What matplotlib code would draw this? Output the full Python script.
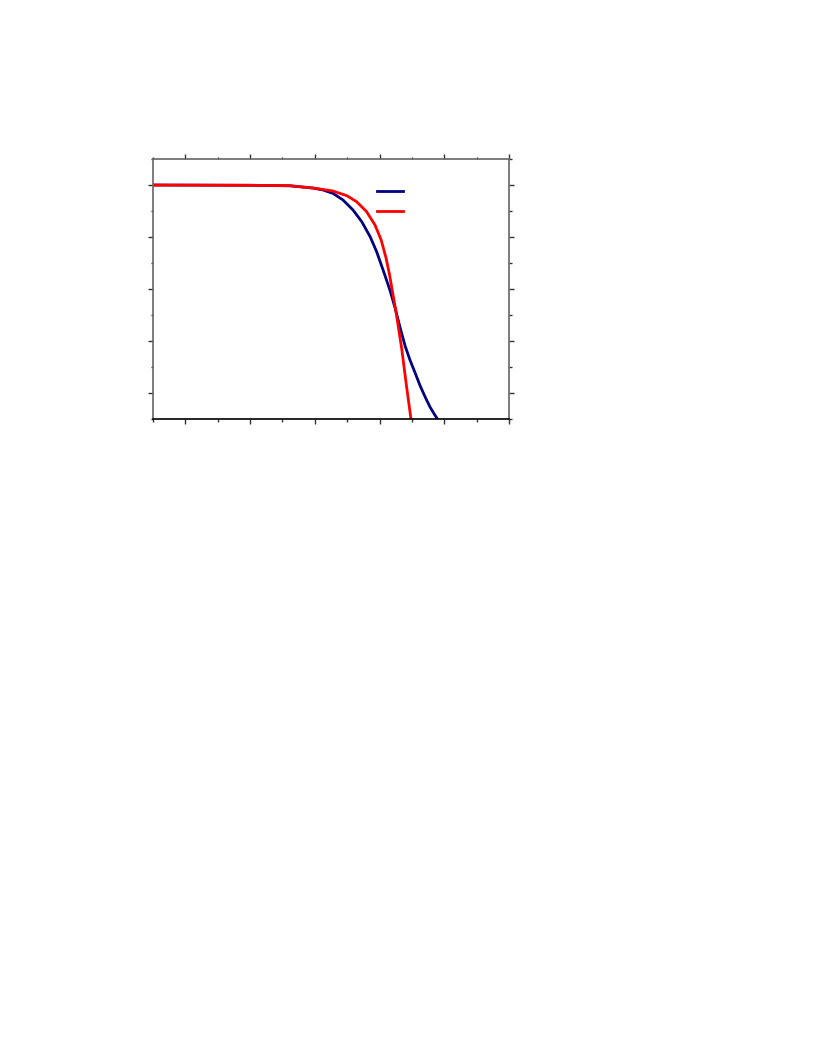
import matplotlib.pyplot as plt
from matplotlib.ticker import MultipleLocator

# J-V style curves (no axis labels in the picture)
blue_x = [-0.1, 0.2, 0.323, 0.394, 0.425, 0.456, 0.487, 0.518, 0.545, 0.571,
          0.591, 0.611, 0.632, 0.648, 0.663, 0.679, 0.694, 0.710, 0.725,
          0.741, 0.756, 0.769, 0.779]
blue_y = [16.0, 15.98, 15.94, 15.77, 15.62, 15.36, 14.85, 14.08, 13.18, 12.02,
          10.87, 9.46, 7.92, 6.54, 5.08, 3.62, 2.54, 1.54, 0.58,
          -0.31, -1.08, -1.62, -2.0]

red_x = [-0.1, 0.2, 0.323, 0.401, 0.456, 0.499, 0.529, 0.560, 0.586, 0.605,
         0.620, 0.631, 0.639, 0.651, 0.660, 0.669, 0.682, 0.697]
red_y = [16.0, 15.98, 15.95, 15.75, 15.54, 15.18, 14.72, 13.95, 12.92, 11.77,
         10.39, 9.08, 7.92, 6.23, 4.77, 3.31, 0.77, -2.0]

BLUE = "#000080"
RED = "#ff0000"

fig = plt.figure(figsize=(8.16, 10.56), dpi=100)
ax = fig.add_axes([0.1875, 0.6032, 0.4363, 0.2462])

l1, = ax.plot(blue_x, blue_y, color=BLUE, linewidth=2,
              solid_joinstyle="round")
l2, = ax.plot(red_x, red_y, color=RED, linewidth=2,
              solid_joinstyle="round")

ax.set_xlim(-0.1, 1.0)
ax.set_ylim(-2, 18)
ax.xaxis.set_major_locator(MultipleLocator(0.2))
ax.xaxis.set_minor_locator(MultipleLocator(0.1))
ax.yaxis.set_major_locator(MultipleLocator(4))
ax.yaxis.set_minor_locator(MultipleLocator(2))

ax.tick_params(which="both", labelbottom=False, labelleft=False,
               top=True, right=True, color="#333333", width=1,
               direction="out")
ax.tick_params(which="major", length=3.5)
ax.tick_params(which="minor", length=1.8)

for side in ["left", "right", "top"]:
    ax.spines[side].set_color("#666666")
    ax.spines[side].set_linewidth(1.2)
ax.spines["bottom"].set_color("black")
ax.spines["bottom"].set_linewidth(1.2)

ax.legend([l1, l2], [" ", " "], loc="upper left",
          bbox_to_anchor=(0.629, 0.899), frameon=False, fontsize=10,
          handlelength=1.85, handletextpad=0.2, borderpad=0,
          borderaxespad=0, labelspacing=0.43)

fig.savefig("out.png", dpi=100)
